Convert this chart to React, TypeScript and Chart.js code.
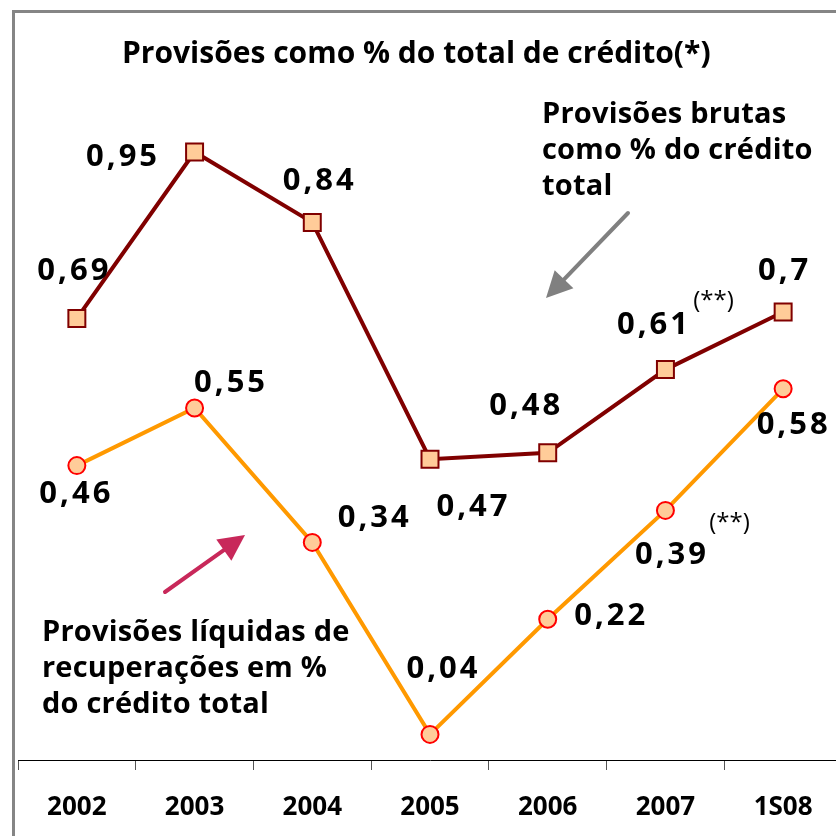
import React, { useEffect, useRef } from 'react';
import { Chart, registerables } from 'chart.js';

Chart.register(...registerables);

// ---- data ----
const categories = ['2002', '2003', '2004', '2005', '2006', '2007', '1S08'];
const brutas = [0.69, 0.95, 0.84, 0.47, 0.48, 0.61, 0.7];
const liquidas = [0.46, 0.55, 0.34, 0.04, 0.22, 0.39, 0.58];
const brutasLabels = ['0,69', '0,95', '0,84', '0,47', '0,48', '0,61', '0,7'];
const liquidasLabels = ['0,46', '0,55', '0,34', '0,04', '0,22', '0,39', '0,58'];
const titleText = 'Provisões como % do total de crédito(*)';
const brutasNote = ['Provisões brutas', 'como % do crédito', 'total'];
const liquidasNote = ['Provisões líquidas de', 'recuperações em %', 'do crédito total'];
const footnoteMark = '(**)';

// ---- layout / style (pixel offsets of value labels from their points) ----
const brutasLabelOffsets = [[-4, -47], [-73, 5], [6, -41], [42, 48], [-23, -47], [-13, -44], [0, -41]];
const liquidasLabelOffsets = [[-2, 29], [35, -25], [61, -24], [12, -65], [62, -3], [5, 45], [9, 36]];

const FONT = '"Open Sans", "DejaVu Sans", sans-serif';

function drawArrow(ctx: CanvasRenderingContext2D, x1: number, y1: number, x2: number, y2: number, color: string, lw: number, headLen: number, headHalf: number) {
  const ang = Math.atan2(y2 - y1, x2 - x1);
  const bx = x2 - headLen * Math.cos(ang);
  const by = y2 - headLen * Math.sin(ang);
  ctx.save();
  ctx.strokeStyle = color;
  ctx.fillStyle = color;
  ctx.lineWidth = lw;
  ctx.lineCap = 'round';
  ctx.beginPath();
  ctx.moveTo(x1, y1);
  ctx.lineTo(bx, by);
  ctx.stroke();
  ctx.beginPath();
  ctx.moveTo(x2, y2);
  ctx.lineTo(bx + headHalf * Math.sin(ang), by - headHalf * Math.cos(ang));
  ctx.lineTo(bx - headHalf * Math.sin(ang), by + headHalf * Math.cos(ang));
  ctx.closePath();
  ctx.fill();
  ctx.restore();
}

const decorPlugin = {
  id: 'decor',
  beforeDraw(chart: any) {
    const ctx = chart.ctx as CanvasRenderingContext2D;
    ctx.save();
    ctx.fillStyle = '#ffffff';
    ctx.fillRect(0, 0, chart.width, chart.height);
    ctx.strokeStyle = '#858585';
    ctx.lineWidth = 3;
    ctx.beginPath();
    ctx.moveTo(chart.width, 11.5);
    ctx.lineTo(13.5, 11.5);
    ctx.lineTo(13.5, chart.height);
    ctx.stroke();
    ctx.restore();
  },
  afterDatasetsDraw(chart: any) {
    const ctx = chart.ctx as CanvasRenderingContext2D;
    ctx.save();
    // title
    ctx.fillStyle = '#000';
    ctx.textAlign = 'left';
    ctx.textBaseline = 'alphabetic';
    ctx.font = `bold 30px ${FONT}`;
    ctx.fillText(titleText, 122, 63);

    // notes
    ctx.font = `bold 29px ${FONT}`;
    (ctx as any).letterSpacing = '0.2px';
    brutasNote.forEach((t, i) => ctx.fillText(t, 542, 123 + i * 36));
    liquidasNote.forEach((t, i) => ctx.fillText(t, 42, 641 + i * 36));
    (ctx as any).letterSpacing = '0px';

    // arrows
    drawArrow(ctx, 628, 213, 546, 298, '#808080', 4, 26, 13);
    drawArrow(ctx, 165, 592, 245, 535, '#C8285A', 4, 26, 13);

    // value labels
    ctx.font = `bold 31px ${FONT}`;
    (ctx as any).letterSpacing = '3px';
    ctx.textAlign = 'center';
    ctx.textBaseline = 'middle';
    const sets: [number, string[], number[][]][] = [
      [0, brutasLabels, brutasLabelOffsets],
      [1, liquidasLabels, liquidasLabelOffsets],
    ];
    sets.forEach(([di, labels, offs]) => {
      const meta = chart.getDatasetMeta(di);
      meta.data.forEach((pt: any, i: number) => {
        ctx.fillText(labels[i], pt.x + offs[i][0] + 1.5, pt.y + offs[i][1]);
      });
    });
    (ctx as any).letterSpacing = '0px';

    // footnote marks
    ctx.font = `24px ${FONT}`;
    const m0 = chart.getDatasetMeta(0).data[5];
    const m1 = chart.getDatasetMeta(1).data[5];
    ctx.fillText(footnoteMark, m0.x + 48, m0.y - 68);
    ctx.fillText(footnoteMark, m1.x + 64, m1.y + 13);
    ctx.restore();
  },
};

export default function App() {
  const ref = useRef<HTMLCanvasElement>(null);
  useEffect(() => {
    document.body.style.margin = '0';
    const chart = new Chart(ref.current!, {
      type: 'line',
      data: {
        labels: categories,
        datasets: [
          {
            label: 'Provisões brutas como % do crédito total',
            data: brutas,
            borderColor: '#800000',
            borderWidth: 4,
            pointStyle: 'rect',
            pointRadius: 12,
            pointBorderWidth: 2,
            pointBackgroundColor: '#FFCC99',
            pointBorderColor: '#800000',
            tension: 0,
          },
          {
            label: 'Provisões líquidas de recuperações em % do crédito total',
            data: liquidas,
            borderColor: '#FF9900',
            borderWidth: 4,
            pointStyle: 'circle',
            pointRadius: 8.5,
            pointBorderWidth: 2,
            pointBackgroundColor: '#FFCC99',
            pointBorderColor: '#FF0000',
            tension: 0,
          },
        ],
      },
      options: {
        animation: false,
        responsive: false,
        layout: { padding: { left: 18, right: 14, top: 20, bottom: 0 } },
        plugins: { legend: { display: false }, title: { display: false }, tooltip: { enabled: false } },
        scales: {
          x: {
            type: 'category',
            offset: true,
            grid: { display: true, offset: true, drawOnChartArea: false, drawTicks: true, tickLength: 10, color: '#555' },
            border: { display: true, color: '#000', width: 1 },
            ticks: { color: '#000', font: { family: FONT, size: 26, weight: 'bold' }, padding: 22, maxRotation: 0 },
            afterFit: (s: any) => { s.height = 76; s.paddingLeft = 0; s.paddingRight = 0; },
          },
          y: { display: false, min: 0, max: 1.15625 },
        },
      },
      plugins: [decorPlugin],
    });
    return () => chart.destroy();
  }, []);
  return (
    <div style={{ position: 'absolute', left: 0, top: 0, width: 836, height: 836, overflow: 'hidden', background: '#fff' }}>
      <canvas ref={ref} width={856} height={836} style={{ width: 856, height: 836, display: 'block' }} />
    </div>
  );
}
